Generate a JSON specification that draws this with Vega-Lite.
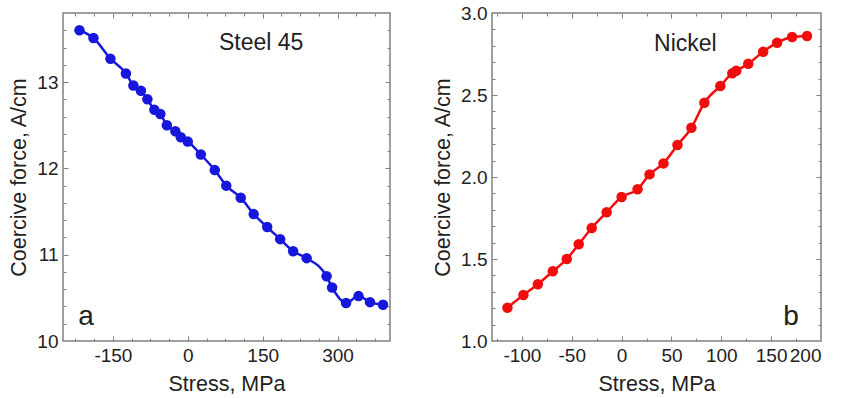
{
  "$schema": "https://vega.github.io/schema/vega-lite/v6.json",
  "padding": {"left": 8, "top": 3, "right": 5, "bottom": 5},
  "background": "white",
  "bounds": "flush",
  "spacing": 102,
  "config": {
    "font": "Liberation Sans",
    "view": {"stroke": "#808080", "strokeWidth": 1.5},
    "axis": {
      "domain": false,
      "grid": false,
      "labelFont": "Liberation Sans",
      "labelFontSize": 19,
      "labelColor": "#222",
      "titleFont": "Liberation Sans",
      "titleFontSize": 21.5,
      "titleFontWeight": "normal",
      "titleColor": "#222",
      "tickColor": "#808080",
      "tickWidth": 1
    },
    "text": {"font": "Liberation Sans", "color": "#222"}
  },
  "datasets": {
    "steel": [
      {"stress": -217, "hc": 13.60}, {"stress": -189, "hc": 13.51}, {"stress": -155, "hc": 13.27},
      {"stress": -124, "hc": 13.10}, {"stress": -109, "hc": 12.96}, {"stress": -94, "hc": 12.90},
      {"stress": -81, "hc": 12.80}, {"stress": -67, "hc": 12.68}, {"stress": -55, "hc": 12.63},
      {"stress": -42, "hc": 12.50}, {"stress": -25, "hc": 12.43}, {"stress": -14, "hc": 12.36},
      {"stress": 0, "hc": 12.31}, {"stress": 26, "hc": 12.16}, {"stress": 54, "hc": 11.98},
      {"stress": 77, "hc": 11.80}, {"stress": 106, "hc": 11.66}, {"stress": 132, "hc": 11.47},
      {"stress": 159, "hc": 11.32}, {"stress": 185, "hc": 11.18}, {"stress": 211, "hc": 11.04},
      {"stress": 238, "hc": 10.96}, {"stress": 278, "hc": 10.75}, {"stress": 289, "hc": 10.62},
      {"stress": 317, "hc": 10.44}, {"stress": 342, "hc": 10.52}, {"stress": 365, "hc": 10.45},
      {"stress": 391, "hc": 10.42}
    ],
    "nickel": [
      {"stress": -114.5, "hc": 1.203}, {"stress": -98.5, "hc": 1.28}, {"stress": -84, "hc": 1.346},
      {"stress": -69, "hc": 1.425}, {"stress": -55, "hc": 1.50}, {"stress": -43, "hc": 1.59},
      {"stress": -30, "hc": 1.689}, {"stress": -15, "hc": 1.785}, {"stress": 0, "hc": 1.878},
      {"stress": 16, "hc": 1.925}, {"stress": 28, "hc": 2.016}, {"stress": 42, "hc": 2.083},
      {"stress": 56, "hc": 2.195}, {"stress": 70, "hc": 2.30}, {"stress": 83, "hc": 2.453},
      {"stress": 99, "hc": 2.555}, {"stress": 111, "hc": 2.632}, {"stress": 115, "hc": 2.648},
      {"stress": 127, "hc": 2.69}, {"stress": 142, "hc": 2.764}, {"stress": 156, "hc": 2.819},
      {"stress": 171, "hc": 2.854}, {"stress": 186, "hc": 2.86}
    ],
    "steelText": [
      {"stress": 147, "hc": 13.375, "label": "Steel 45", "kind": "name"},
      {"stress": -204, "hc": 10.18, "label": "a", "kind": "letter"}
    ],
    "nickelText": [
      {"stress": 64, "hc": 2.768, "label": "Nickel", "kind": "name"},
      {"stress": 170, "hc": 1.10, "label": "b", "kind": "letter"}
    ]
  },
  "hconcat": [
    {
      "width": 327,
      "height": 328,
      "layer": [
        {
          "data": {"name": "steel"},
          "mark": {"type": "line", "interpolate": "monotone", "color": "#1616dc", "strokeWidth": 2.5},
          "encoding": {
            "x": {"field": "stress", "type": "quantitative",
              "scale": {"domain": [-250, 405], "nice": false, "zero": false},
              "axis": {"orient": "bottom", "title": "Stress, MPa", "ticks": false, "values": [-150, 0, 150, 300],
                "labelPadding": 5, "titlePadding": 8, "labelExpr": "replace(datum.label, '\u2212', '-')"}},
            "y": {"field": "hc", "type": "quantitative",
              "scale": {"domain": [10, 13.8], "nice": false, "zero": false},
              "axis": {"orient": "left", "title": "Coercive force, A/cm", "ticks": false, "values": [10, 11, 12, 13],
                "format": "d", "labelPadding": 5, "titlePadding": 6}}
          }
        },
        {
          "data": {"name": "steel"},
          "mark": {"type": "circle", "color": "#1616dc", "size": 110, "opacity": 1},
          "encoding": {
            "x": {"field": "stress", "type": "quantitative",
              "scale": {"domain": [-250, 405], "nice": false, "zero": false},
              "axis": {"orient": "bottom", "title": null, "labels": false,
                "values": [-225, -187.5, -150, -112.5, -75, -37.5, 0, 37.5, 75, 112.5, 150, 187.5, 225, 262.5, 300, 337.5, 375],
                "tickSize": {"condition": {"test": "abs(datum.value/150 - round(datum.value/150)) < 0.001", "value": -5}, "value": -3}}},
            "y": {"field": "hc", "type": "quantitative",
              "scale": {"domain": [10, 13.8], "nice": false, "zero": false},
              "axis": {"orient": "left", "title": null, "labels": false,
                "values": [10.2, 10.4, 10.6, 10.8, 11, 11.2, 11.4, 11.6, 11.8, 12, 12.2, 12.4, 12.6, 12.8, 13, 13.2, 13.4, 13.6],
                "tickSize": {"condition": {"test": "abs(datum.value - round(datum.value)) < 0.001", "value": -5}, "value": -3}}}
          }
        },
        {
          "mark": {"type": "rule", "color": "#808080", "strokeWidth": 1.5},
          "encoding": {
            "x": {"datum": 0, "type": "quantitative",
              "scale": {"domain": [-250, 405], "nice": false, "zero": false}, "axis": null}
          }
        },
        {
          "data": {"name": "steelText"},
          "mark": {"type": "text", "align": "center", "baseline": "alphabetic"},
          "encoding": {
            "x": {"field": "stress", "type": "quantitative",
              "scale": {"domain": [-250, 405], "nice": false, "zero": false},
              "axis": {"orient": "top", "title": null, "labels": false,
                "values": [-225, -187.5, -150, -112.5, -75, -37.5, 0, 37.5, 75, 112.5, 150, 187.5, 225, 262.5, 300, 337.5, 375],
                "tickSize": {"condition": {"test": "abs(datum.value/150 - round(datum.value/150)) < 0.001", "value": -5}, "value": -3}}},
            "y": {"field": "hc", "type": "quantitative",
              "scale": {"domain": [10, 13.8], "nice": false, "zero": false},
              "axis": {"orient": "right", "title": null, "labels": false,
                "values": [10.2, 10.4, 10.6, 10.8, 11, 11.2, 11.4, 11.6, 11.8, 12, 12.2, 12.4, 12.6, 12.8, 13, 13.2, 13.4, 13.6],
                "tickSize": {"condition": {"test": "abs(datum.value - round(datum.value)) < 0.001", "value": -5}, "value": -3}}},
            "text": {"field": "label"},
            "size": {"field": "kind", "type": "nominal", "scale": {"domain": ["name", "letter"], "range": [23, 28]}, "legend": null}
          }
        }
      ],
      "resolve": {"axis": {"x": "independent", "y": "independent"}}
    },
    {
      "width": 329,
      "height": 328,
      "layer": [
        {
          "data": {"name": "nickel"},
          "mark": {"type": "line", "interpolate": "monotone", "color": "#f20d0d", "strokeWidth": 2.5},
          "encoding": {
            "x": {"field": "stress", "type": "quantitative",
              "scale": {"domain": [-130, 200], "nice": false, "zero": false},
              "axis": {"orient": "bottom", "title": "Stress, MPa", "ticks": false, "values": [-100, -50, 0, 50, 100, 150, 200],
                "labelPadding": 5, "titlePadding": 8, "labelExpr": "replace(datum.label, '\u2212', '-')"}},
            "y": {"field": "hc", "type": "quantitative",
              "scale": {"domain": [1, 3], "nice": false, "zero": false},
              "axis": {"orient": "left", "title": "Coercive force, A/cm", "ticks": false, "values": [1, 1.5, 2, 2.5, 3],
                "format": ".1f", "labelPadding": 5, "titlePadding": 6}}
          }
        },
        {
          "data": {"name": "nickel"},
          "mark": {"type": "circle", "color": "#f20d0d", "size": 110, "opacity": 1},
          "encoding": {
            "x": {"field": "stress", "type": "quantitative",
              "scale": {"domain": [-130, 200], "nice": false, "zero": false},
              "axis": {"orient": "bottom", "title": null, "labels": false,
                "values": [-125, -100, -75, -50, -25, 0, 25, 50, 75, 100, 125, 150, 175],
                "tickSize": {"condition": {"test": "abs(datum.value/50 - round(datum.value/50)) < 0.001", "value": -5}, "value": -3}}},
            "y": {"field": "hc", "type": "quantitative",
              "scale": {"domain": [1, 3], "nice": false, "zero": false},
              "axis": {"orient": "left", "title": null, "labels": false,
                "values": [1.1, 1.2, 1.3, 1.4, 1.5, 1.6, 1.7, 1.8, 1.9, 2.0, 2.1, 2.2, 2.3, 2.4, 2.5, 2.6, 2.7, 2.8, 2.9],
                "tickSize": {"condition": {"test": "abs(datum.value/0.5 - round(datum.value/0.5)) < 0.001", "value": -5}, "value": -3}}}
          }
        },
        {
          "mark": {"type": "rule", "color": "#808080", "strokeWidth": 1.5},
          "encoding": {
            "x": {"datum": 0, "type": "quantitative",
              "scale": {"domain": [-130, 200], "nice": false, "zero": false}, "axis": null}
          }
        },
        {
          "data": {"name": "nickelText"},
          "mark": {"type": "text", "align": "center", "baseline": "alphabetic"},
          "encoding": {
            "x": {"field": "stress", "type": "quantitative",
              "scale": {"domain": [-130, 200], "nice": false, "zero": false},
              "axis": {"orient": "top", "title": null, "labels": false,
                "values": [-125, -100, -75, -50, -25, 0, 25, 50, 75, 100, 125, 150, 175],
                "tickSize": {"condition": {"test": "abs(datum.value/50 - round(datum.value/50)) < 0.001", "value": -5}, "value": -3}}},
            "y": {"field": "hc", "type": "quantitative",
              "scale": {"domain": [1, 3], "nice": false, "zero": false},
              "axis": {"orient": "right", "title": null, "labels": false,
                "values": [1.1, 1.2, 1.3, 1.4, 1.5, 1.6, 1.7, 1.8, 1.9, 2.0, 2.1, 2.2, 2.3, 2.4, 2.5, 2.6, 2.7, 2.8, 2.9],
                "tickSize": {"condition": {"test": "abs(datum.value/0.5 - round(datum.value/0.5)) < 0.001", "value": -5}, "value": -3}}},
            "text": {"field": "label"},
            "size": {"field": "kind", "type": "nominal", "scale": {"domain": ["name", "letter"], "range": [23, 28]}, "legend": null}
          }
        }
      ],
      "resolve": {"axis": {"x": "independent", "y": "independent"}}
    }
  ]
}
